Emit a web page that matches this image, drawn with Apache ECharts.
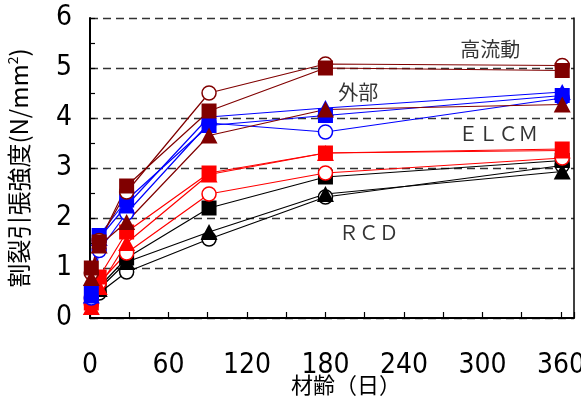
<!DOCTYPE html>
<html>
<head>
<meta charset="utf-8">
<script src="https://cdn.jsdelivr.net/npm/echarts@6/dist/echarts.min.js"></script>
<style>html,body{margin:0;padding:0;background:#fff;}#c{width:581px;height:398px;}</style>
</head>
<body>
<div id="c"></div>
<script>
// ages (days)
const ages = [1, 7, 28, 91, 180, 361];
const xTicks = [0, 60, 120, 180, 240, 300, 360];
const yTicks = [0, 1, 2, 3, 4, 5, 6];

// RCD (black)
const rcdSquare   = [null, 0.62, 1.20, 2.20, 2.82, 3.15];
const rcdTriangle = [null, 0.58, 1.12, 1.72, 2.48, 2.93];
const rcdCircle   = [null, 0.50, 0.92, 1.58, 2.42, 3.05];
// ELCM (red)
const elcmSquare   = [0.30, 0.82, 1.72, 2.90, 3.30, 3.38];
const elcmTriangle = [0.22, 0.62, 1.50, 2.87, 3.30, 3.35];
const elcmCircle   = [0.28, 0.70, 1.30, 2.48, 2.90, 3.20];
// 外部 (blue)
const outSquare   = [0.50, 1.65, 2.36, 3.85, 4.05, 4.45];
const outTriangle = [0.45, 1.60, 2.25, 4.02, 4.20, 4.52];
const outCircle   = [0.40, 1.35, 2.10, 3.90, 3.72, 4.40];
// 高流動 (dark red)
const hfSquare   = [1.00, 1.52, 2.64, 4.14, 5.00, 4.95];
const hfTriangle = [0.80, 1.45, 1.92, 3.65, 4.17, 4.27];
const hfCircle   = [0.90, 1.55, 2.52, 4.50, 5.08, 5.05];

// annotation texts and positions (data coordinates)
const noteTexts = ['高流動', '外部', 'ＥＬＣＭ', 'ＲＣＤ'];
const noteX = [306, 205, 312, 213];
const noteY = [5.38, 4.51, 3.70, 1.72];

const COLORS = { rcd: '#000000', elcm: '#ff0000', out: '#0000ff', hf: '#800000' };
const numFont = '"Liberation Sans Narrow", "DejaVu Sans Condensed", sans-serif';
const jpFont = '"Noto Sans CJK JP", sans-serif';

function pts(vals) {
  const out = [];
  vals.forEach((v, i) => { if (v !== null) out.push([ages[i], v]); });
  return out;
}
function mk(name, vals, color, shape) {
  const open = shape === 'circle';
  return {
    name: name, type: 'line', data: pts(vals),
    symbol: shape === 'square' ? 'rect' : shape,
    symbolSize: shape === 'square' ? 15 : (shape === 'triangle' ? [17, 16] : 14),
    lineStyle: { color: color, width: 1.2 },
    itemStyle: open ? { color: '#ffffff', borderColor: color, borderWidth: 1.5 } : { color: color, borderWidth: 0 },
    emphasis: { disabled: true },
    animation: false
  };
}

const series = [
  mk('RCD○', rcdCircle, COLORS.rcd, 'circle'),
  mk('RCD■', rcdSquare, COLORS.rcd, 'square'),
  mk('RCD▲', rcdTriangle, COLORS.rcd, 'triangle'),
  mk('ELCM○', elcmCircle, COLORS.elcm, 'circle'),
  mk('ELCM■', elcmSquare, COLORS.elcm, 'square'),
  mk('ELCM▲', elcmTriangle, COLORS.elcm, 'triangle'),
  mk('外部○', outCircle, COLORS.out, 'circle'),
  mk('外部■', outSquare, COLORS.out, 'square'),
  mk('外部▲', outTriangle, COLORS.out, 'triangle'),
  mk('高流動○', hfCircle, COLORS.hf, 'circle'),
  mk('高流動■', hfSquare, COLORS.hf, 'square'),
  mk('高流動▲', hfTriangle, COLORS.hf, 'triangle'),
  {
    type: 'scatter', symbolSize: 0, silent: true, animation: false,
    data: noteTexts.map((t, i) => ({ name: t, value: [noteX[i], noteY[i]] })),
    label: { show: true, position: 'inside', formatter: p => p.name, color: '#000', fontFamily: jpFont, fontSize: 20 },
    z: 10
  }
];

const chart = echarts.init(document.getElementById('c'), null, { renderer: 'canvas' });
chart.setOption({
  backgroundColor: '#ffffff',
  animation: false,
  grid: { left: 90, right: 7, top: 18, bottom: 80, containLabel: false, outerBoundsMode: 'none' },
  xAxis: {
    type: 'value', min: 0, max: 370, interval: 30,
    name: '材齢（日）', nameLocation: 'middle', nameGap: 56, nameMoveOverlap: false,
    nameTextStyle: { fontFamily: jpFont, fontSize: 22, color: '#000', padding: [0, 0, 0, 28] },
    axisLine: { show: true, lineStyle: { color: '#000', width: 2 } },
    axisTick: { show: true, inside: true, length: 6, lineStyle: { color: '#000', width: 1.2 } },
    axisLabel: {
      margin: 34, color: '#000', fontFamily: numFont, fontSize: 28,
      formatter: v => (xTicks.indexOf(v) >= 0 ? String(v) : '')
    },
    splitLine: { show: false }
  },
  yAxis: [{
    type: 'value', min: 0, max: 6, interval: 1,
    name: '{a|割裂引張強度(N/mm}{s|2}{a|)}', nameLocation: 'middle', nameGap: 58, nameRotate: 90,
    nameMoveOverlap: false,
    nameTextStyle: {
      rich: {
        a: { fontFamily: jpFont, fontSize: 24, color: '#000' },
        s: { fontFamily: jpFont, fontSize: 14, color: '#000', verticalAlign: 'top', padding: [0, 0, 12, 0] }
      }
    },
    axisLine: { show: true, lineStyle: { color: '#000', width: 2 } },
    axisTick: { show: true, inside: true, length: 5, lineStyle: { color: '#000', width: 1.2 } },
    minorTick: { show: true, splitNumber: 2, length: 5, lineStyle: { color: '#000', width: 1.2 } },
    axisLabel: {
      margin: 18, color: '#000', fontFamily: numFont, fontSize: 28,
      formatter: v => (yTicks.indexOf(v) >= 0 ? String(v) : '')
    },
    splitLine: { show: true, lineStyle: { color: '#333', width: 1.3, type: [8, 5] } }
  }, {
    type: 'value', min: 0, max: 6, interval: 1, position: 'right',
    axisLine: { show: true, lineStyle: { color: '#000', width: 1.5 } },
    axisTick: { show: false }, axisLabel: { show: false }, splitLine: { show: false }
  }],
  series: series
});
</script>
</body>
</html>
